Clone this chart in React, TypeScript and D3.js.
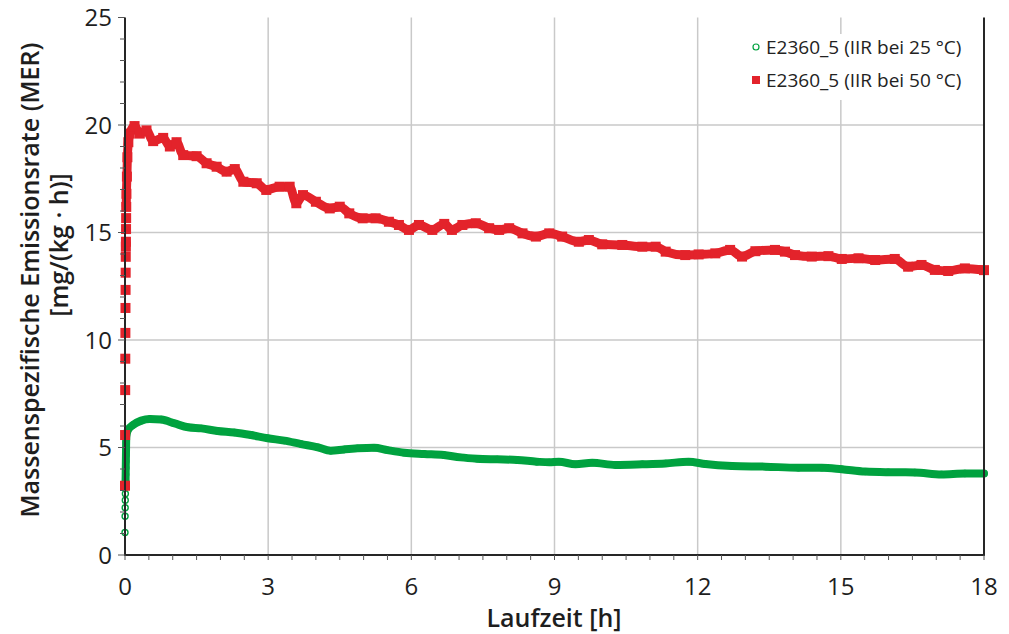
import React from "react";
import * as d3 from "d3";

// Laufzeit [h] and MER [mg/(kg·h)] for sample E2360_5, IIR at 25 °C
const greenTime = [
  0, 0.002, 0.004, 0.006, 0.008, 0.01, 0.012, 0.014, 0.016, 0.018, 0.02, 0.022, 0.024, 0.028,
  0.06, 0.17, 0.34, 0.52, 0.76, 1.04, 1.32, 1.6, 1.94, 2.29, 2.64, 2.99, 3.34, 3.69, 4.04,
  4.31, 4.59, 4.87, 5.22, 5.5, 5.85, 6.27, 6.68, 7.03, 7.38, 7.8, 8.22, 8.63, 8.89, 9.09,
  9.44, 9.79, 10.28, 10.84, 11.33, 11.81, 12.16, 12.72, 13.42, 14.11, 14.6, 15.02, 15.51,
  15.99, 16.55, 17.11, 17.6, 18.0,
];
const greenValue = [
  1.05, 1.8, 2.2, 2.55, 2.85, 3.15, 3.45, 3.75, 4.05, 4.35, 4.65, 4.95, 5.25, 5.5,
  5.81, 6.05, 6.25, 6.33, 6.3, 6.12, 5.94, 5.89, 5.77, 5.7, 5.58, 5.43, 5.32, 5.16, 5.01,
  4.85, 4.91, 4.96, 4.99, 4.88, 4.76, 4.7, 4.65, 4.54, 4.48, 4.45, 4.42, 4.34, 4.31, 4.34,
  4.22, 4.29, 4.19, 4.22, 4.26, 4.34, 4.23, 4.14, 4.11, 4.06, 4.06, 3.99, 3.88,
  3.85, 3.84, 3.75, 3.79, 3.79,
];

// Same sample, IIR at 50 °C
const redTime = [
  0, 0.002, 0.004, 0.006, 0.008, 0.01, 0.012, 0.014, 0.016, 0.018, 0.02, 0.022, 0.024, 0.026,
  0.03, 0.04, 0.05, 0.07, 0.1, 0.2, 0.31, 0.45, 0.59, 0.8, 0.94, 1.08, 1.22, 1.5, 1.71, 1.92,
  2.13, 2.3, 2.48, 2.76, 2.96, 3.24, 3.45, 3.59, 3.73, 4.0, 4.29, 4.5, 4.7, 4.98, 5.25, 5.53,
  5.74, 5.95, 6.16, 6.44, 6.69, 6.85, 7.07, 7.35, 7.63, 7.84, 8.05, 8.33, 8.61, 8.89, 9.16,
  9.51, 9.72, 10.0, 10.42, 10.84, 11.12, 11.33, 11.74, 12.02, 12.37, 12.68, 12.93, 13.21,
  13.62, 13.83, 14.04, 14.39, 14.74, 15.02, 15.37, 15.72, 16.13, 16.41, 16.69, 16.97, 17.25,
  17.6, 18.0,
];
const redValue = [
  3.22, 5.58, 7.67, 9.13, 10.33, 11.49, 12.33, 13.13, 13.87, 14.34, 14.57, 15.16, 15.67, 16.19,
  16.8, 17.6, 18.5, 19.2, 19.6, 19.95, 19.6, 19.75, 19.25, 19.4, 19.0, 19.2, 18.6, 18.55, 18.22,
  18.06, 17.83, 17.95, 17.36, 17.29, 16.98, 17.13, 17.13, 16.36, 16.74, 16.43, 16.12, 16.2,
  15.89, 15.66, 15.66, 15.5, 15.35, 15.12, 15.35, 15.12, 15.4, 15.12, 15.35, 15.43, 15.2,
  15.12, 15.2, 14.96, 14.81, 14.96, 14.81, 14.57, 14.65, 14.45, 14.42, 14.34, 14.34, 14.11,
  13.95, 13.98, 14.03, 14.19, 13.88, 14.13, 14.19, 14.11, 13.95, 13.88, 13.9, 13.77, 13.8,
  13.72, 13.77, 13.41, 13.49, 13.26, 13.21, 13.33, 13.25,
];

// Readings before these indices are separate markers on the initial rise
const greenBandStart = 6;
const redBandStart = 13;

const xTicks = [0, 3, 6, 9, 12, 15, 18];
const yTicks = [0, 5, 10, 15, 20, 25];
const legendLabels = ["E2360_5 (IIR bei 25 °C)", "E2360_5 (IIR bei 50 °C)"];
const xTitle = "Laufzeit [h]";
const yTitleLines = ["Massenspezifische Emissionsrate  (MER)", "[mg/(kg · h)]"];

const W = 1009;
const H = 634;
const GREEN = "#00A23F";
const RED = "#E3232B";
const AXIS = "#262626";
const GRID = "#c9c9c9";
const TEXT = "#1e1e1e";
const FONT = "'Open Sans', 'Noto Sans', sans-serif";

export default function App() {
  const x = d3.scaleLinear().domain([0, 18]).range([125, 984]);
  const y = d3.scaleLinear().domain([0, 25]).range([555, 17.5]);

  const green = greenTime.map((t, i) => [t, greenValue[i]] as [number, number]);
  const red = redTime.map((t, i) => [t, redValue[i]] as [number, number]);

  const line = d3
    .line<[number, number]>()
    .x((d) => x(d[0]))
    .y((d) => y(d[1]))
    .curve(d3.curveMonotoneX);

  const minorX = d3.range(0, 18.001, 0.5);
  const minorY = d3.range(0, 25.001, 1);
  const sq = 10;

  return (
    <svg
      width={W}
      height={H}
      style={{ position: "absolute", left: 0, top: 0, background: "#fff" }}
      fontFamily={FONT}
    >
      {/* grid */}
      {xTicks.slice(1, -1).map((t) => (
        <line key={"gx" + t} x1={x(t)} x2={x(t)} y1={y(25)} y2={y(0)} stroke={GRID} strokeWidth={1.5} />
      ))}
      {yTicks.slice(1, -1).map((t) => (
        <line key={"gy" + t} x1={x(0)} x2={x(18)} y1={y(t)} y2={y(t)} stroke={GRID} strokeWidth={1.5} />
      ))}

      {/* legend box covers the grid */}
      <rect x={745} y={34} width={237} height={66} fill="#fff" />

      {/* 25 °C series */}
      <path
        d={line(green.slice(greenBandStart)) || ""}
        fill="none"
        stroke={GREEN}
        strokeWidth={8}
        strokeLinejoin="round"
        strokeLinecap="round"
      />
      {green.map((d, i) => (
        <circle
          key={"g" + i}
          cx={x(d[0])}
          cy={y(d[1])}
          r={3}
          fill="#fff"
          fillOpacity={i < greenBandStart ? 1 : 0}
          stroke={GREEN}
          strokeWidth={1.4}
        />
      ))}

      {/* 50 °C series */}
      <path
        d={line(red.slice(redBandStart)) || ""}
        fill="none"
        stroke={RED}
        strokeWidth={9}
        strokeLinejoin="round"
      />
      {red.map((d, i) => (
        <rect key={"r" + i} x={x(d[0]) - sq / 2} y={y(d[1]) - sq / 2} width={sq} height={sq} fill={RED} />
      ))}

      {/* frame */}
      <line x1={x(0)} x2={x(0)} y1={y(25)} y2={y(0) + 1} stroke={AXIS} strokeWidth={2} />
      <line x1={x(0) - 1} x2={x(18) + 1} y1={y(0)} y2={y(0)} stroke={AXIS} strokeWidth={2} />
      <line x1={x(18)} x2={x(18)} y1={y(25)} y2={y(0)} stroke={AXIS} strokeWidth={2} />

      {/* ticks */}
      {minorX.map((t) => (
        <line key={"tx" + t} x1={x(t)} x2={x(t)} y1={y(0)} y2={y(0) + 5} stroke="#555" strokeWidth={1} />
      ))}
      {minorY.map((t) => (
        <line
          key={"ty" + t}
          x1={x(0) - (t % 5 === 0 ? 7 : 5)}
          x2={x(0)}
          y1={y(t)}
          y2={y(t)}
          stroke="#555"
          strokeWidth={1}
        />
      ))}

      {/* tick labels */}
      {xTicks.map((t) => (
        <text key={"lx" + t} x={x(t)} y={595} textAnchor="middle" fontSize={24} fill={TEXT}>
          {t}
        </text>
      ))}
      {yTicks.map((t) => (
        <text key={"ly" + t} x={112} y={y(t) + 8.5} textAnchor="end" fontSize={24} fill={TEXT}>
          {t}
        </text>
      ))}

      {/* axis titles */}
      <text x={554} y={627} textAnchor="middle" fontSize={25} fontWeight={600} fill={TEXT}>
        {xTitle}
      </text>
      <text
        transform="translate(39,280) rotate(-90)"
        textAnchor="middle"
        fontSize={25}
        fontWeight={600}
        fill={TEXT}
      >
        {yTitleLines[0]}
      </text>
      <text
        transform="translate(68,245) rotate(-90)"
        textAnchor="middle"
        fontSize={25}
        fontWeight={600}
        fill={TEXT}
      >
        {yTitleLines[1]}
      </text>

      {/* legend */}
      <circle cx={756} cy={47} r={3} fill="#fff" stroke={GREEN} strokeWidth={1.2} />
      <text x={766} y={54} fontSize={19} fill="#222">
        {legendLabels[0]}
      </text>
      <rect x={752} y={76} width={8} height={8} fill={RED} />
      <text x={766} y={87} fontSize={19} fill="#222">
        {legendLabels[1]}
      </text>
    </svg>
  );
}
